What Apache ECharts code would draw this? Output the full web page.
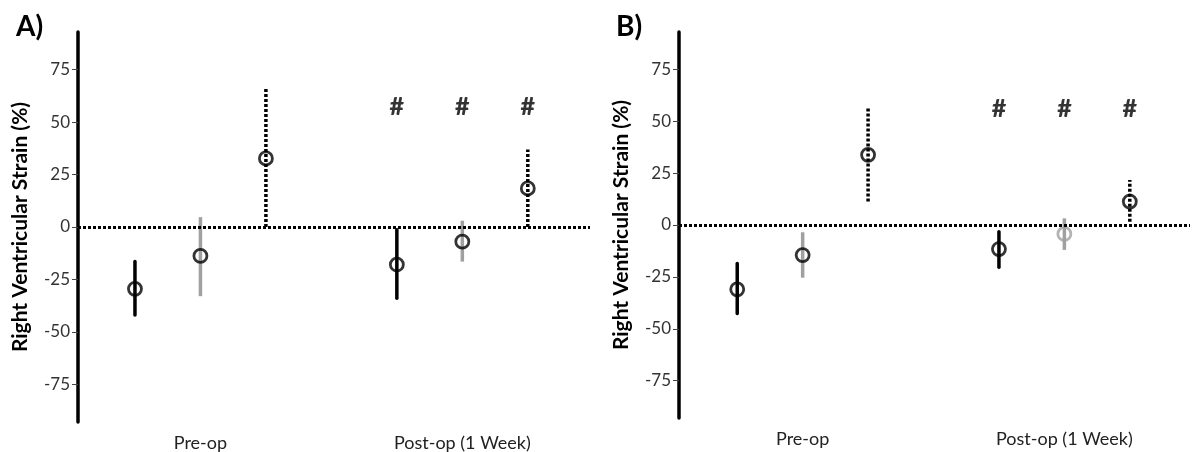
<!DOCTYPE html>
<html><head><meta charset="utf-8">
<script src="https://cdn.jsdelivr.net/npm/echarts@6/dist/echarts.min.js"></script>
<style>html,body{margin:0;padding:0;background:#fff}#c{width:1197px;height:452px}</style>
</head><body><div id="c"></div>
<script>
// ---- data ----
const xPositions = [1, 2, 3, 5, 6, 7];
const groupLabels = ['Pre-op', 'Post-op (1 Week)'];
const groupCenters = [2, 6];
const yTicks = [-75, -50, -25, 0, 25, 50, 75];
const aMeans = [-29.5, -13.8, 32.7, -17.9, -7.0, 18.4];
const aLow   = [-42.0, -33.0, 0.0, -34.0, -16.5, 0.0];
const aHigh  = [-16.5, 4.7, 66.0, -1.3, 3.0, 37.0];
const bMeans = [-31.0, -14.5, 33.8, -11.6, -4.3, 11.3];
const bLow   = [-42.6, -25.4, 11.3, -20.4, -12.0, 1.6];
const bHigh  = [-18.5, -3.5, 56.8, -3.2, 3.2, 21.7];
const hashX = [5, 6, 7];
const aHashY = 57.3;
const bHashY = 56.0;

// ---- styles ----
const FONT = 'Lato, "Open Sans", sans-serif';
const GRAY = '#a0a0a0';
const kinds = ['solid', 'gray', 'dotted'];
const circleColA = ['#000', '#000', '#000', '#000', '#000', '#000'];
const circleColB = ['#000', '#000', '#000', '#000', GRAY, '#000'];

function barStyle(kind) {
  if (kind === 'gray') return { stroke: GRAY, lineWidth: 3.5, lineCap: 'butt' };
  if (kind === 'dotted') return { stroke: '#000', lineWidth: 3.5, lineDash: [3, 2], lineCap: 'butt' };
  return { stroke: '#000', lineWidth: 3.5, lineCap: 'round' };
}

const chart = echarts.init(document.getElementById('c'), null, { renderer: 'canvas' });

function makeAxes(idx, grid) {
  return {
    x: {
      type: 'value', gridIndex: idx, min: grid.xmin, max: grid.xmax,
      axisLine: { show: false }, axisTick: { show: false }, splitLine: { show: false },
      axisLabel: {
        customValues: groupCenters, margin: 12, color: '#222', fontSize: 18, fontFamily: FONT,
        formatter: v => groupLabels[groupCenters.indexOf(v)] || ''
      }
    },
    y: {
      type: 'value', gridIndex: idx, min: -93, max: 93,
      name: 'Right Ventricular Strain (%)', nameLocation: 'middle', nameRotate: 90, nameGap: 47,
      nameTextStyle: { fontSize: 21, fontWeight: 'bold', color: '#000', fontFamily: FONT },
      axisLine: { show: true, onZero: false, lineStyle: { color: '#000', width: 3.5 } },
      axisTick: { show: true, customValues: yTicks, length: 6, lineStyle: { color: '#444', width: 1 } },
      axisLabel: { customValues: yTicks, color: '#333', fontSize: 17, fontFamily: FONT, margin: 8 },
      splitLine: { show: false }
    }
  };
}

const grids = [
  { left: 78, top: 32, width: 512, height: 391, xmin: 0.13, xmax: 7.95 },
  { left: 679, top: 32, width: 511, height: 386, xmin: 0.11, xmax: 7.92 }
];
const axA = makeAxes(0, grids[0]);
const axB = makeAxes(1, grids[1]);

function panelSeries(idx, means, low, high, circleCols, hashY) {
  const barData = xPositions.map((x, i) => [x, low[i], high[i]]);
  return [
    {
      type: 'custom', xAxisIndex: idx, yAxisIndex: idx, z: 2,
      data: barData, silent: true,
      renderItem: (params, api) => {
        const x = api.value(0);
        const p1 = api.coord([x, api.value(1)]);
        const p2 = api.coord([x, api.value(2)]);
        return {
          type: 'line',
          shape: { x1: p1[0], y1: p1[1], x2: p2[0], y2: p2[1] },
          style: Object.assign({ fill: null }, barStyle(kinds[params.dataIndex % 3]))
        };
      },
      markLine: {
        silent: true, symbol: ['none', 'none'], label: { show: false },
        lineStyle: { color: '#000', width: 3, type: [3, 2] },
        data: [{ yAxis: 0 }]
      }
    },
    {
      type: 'scatter', xAxisIndex: idx, yAxisIndex: idx, z: 3, silent: true,
      symbol: 'circle', symbolSize: 13,
      data: xPositions.map((x, i) => ({
        value: [x, means[i]],
        itemStyle: { color: 'rgba(0,0,0,0)', borderColor: circleCols[i], borderWidth: 2.8 }
      }))
    },
    {
      type: 'scatter', xAxisIndex: idx, yAxisIndex: idx, z: 3, silent: true,
      symbolSize: 0,
      data: hashX.map(x => [x, hashY]),
      label: { show: true, position: 'inside', formatter: '#', fontSize: 25, fontWeight: 900, color: '#000', fontFamily: FONT }
    }
  ];
}

chart.setOption({
  animation: false,
  backgroundColor: '#fff',
  title: [
    { text: 'A)', left: 11, top: 8, textStyle: { fontSize: 28, fontWeight: 'bold', color: '#000', fontFamily: FONT } },
    { text: 'B)', left: 611, top: 8, textStyle: { fontSize: 28, fontWeight: 'bold', color: '#000', fontFamily: FONT } }
  ],
  grid: grids.map(g => ({ left: g.left, top: g.top, width: g.width, height: g.height })),
  xAxis: [axA.x, axB.x],
  yAxis: [axA.y, axB.y],
  series: [
    ...panelSeries(0, aMeans, aLow, aHigh, circleColA, aHashY),
    ...panelSeries(1, bMeans, bLow, bHigh, circleColB, bHashY)
  ]
});
</script>
</body></html>
